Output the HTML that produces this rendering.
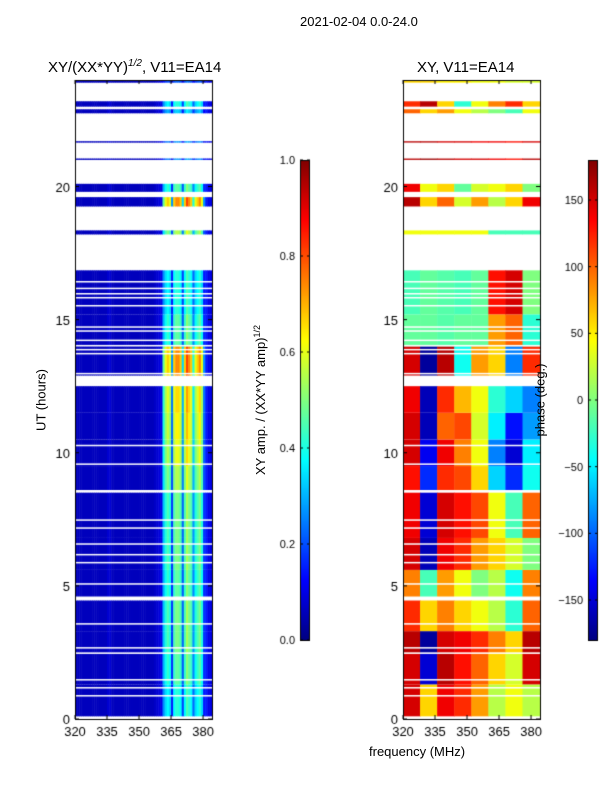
<!DOCTYPE html>
<html><head><meta charset="utf-8"><style>
body{margin:0;background:#fff;}
#wrap{position:relative;width:600px;height:800px;font-family:"Liberation Sans","DejaVu Sans",sans-serif;color:#000;}
.t{position:absolute;white-space:nowrap;}
canvas{position:absolute;left:0;top:0;}
</style></head><body>
<div id="wrap">
<canvas id="c" width="600" height="800"></canvas>
<div class="t" style="left:300px;top:14px;font-size:13px">2021-02-04 0.0-24.0</div>
<div class="t" style="left:48px;top:58px;font-size:15px">XY/(XX*YY)<sup style="font-size:10px;font-style:italic">1/2</sup>, V11=EA14</div>
<div class="t" style="left:417px;top:59px;font-size:15px">XY, V11=EA14</div>
<div class="t" style="left:41px;top:400px;font-size:13px;transform:translate(-50%,-50%) rotate(-90deg)">UT (hours)</div>
<div class="t" style="left:260px;top:400px;font-size:13px;transform:translate(-50%,-50%) rotate(-90deg)">XY amp. / (XX*YY amp)<sup style="font-size:9px">1/2</sup></div>
<div class="t" style="left:540px;top:400px;font-size:13px;transform:translate(-50%,-50%) rotate(-90deg)">phase (deg.)</div>
<div class="t" style="left:369px;top:744px;font-size:13px">frequency (MHz)</div>
</div>
<script>
const freqTicks=[320,335,350,365,380];
const hourTicks=[0,5,10,15,20];
const ampTicks=[0.0,0.2,0.4,0.6,0.8,1.0];
const phaseTicks=[-150,-100,-50,0,50,100,150];
// amplitude profile per 1 MHz channel, 320..383
const ampProfile=[0.06,0.06,0.06,0.06,0.06,0.06,0.06,0.06,0.06,0.06,0.06,0.06,0.06,0.06,0.06,0.08,0.08,0.06,0.06,0.06,
0.06,0.06,0.06,0.06,0.06,0.06,0.06,0.06,0.06,0.06,0.06,0.06,0.06,0.06,0.06,0.06,0.06,0.07,0.08,0.09,
0.1,0.35,0.45,0.5,0.45,0.2,0.5,0.55,0.55,0.5,0.25,0.5,0.6,0.55,0.5,0.3,0.45,0.5,0.55,0.45,0.2,0.15,0.1,0.1];
// data bands: start hour, end hour
const bandStart=[0.1,1.3,2.5,3.3,4.55,5.6,6.8,8.6,9.5,10.5,11.5,12.9,14.0,15.2,18.2,19.25,19.8,21.0,21.65,22.75,23.0,23.9];
const bandEnd=[1.3,2.5,3.3,4.45,5.6,6.8,8.5,9.5,10.5,11.5,12.5,14.0,15.2,16.85,18.35,19.6,20.1,21.05,21.7,22.9,23.2,23.97];
const bandAmp=[0.75,0.85,0.9,0.9,0.85,0.9,0.9,1.0,1.1,1.15,1.2,1.35,0.85,0.75,1.0,1.35,0.85,0.5,0.5,0.6,0.75,0.4];
// phase per band in 8 bins of 8 MHz
const bandPhase=[
[150,60,140,120,80,20,40,20],[150,-150,160,130,100,60,30,150],[160,-170,150,140,120,90,60,160],
[120,60,90,60,40,20,-30,100],[90,-20,80,40,0,20,-40,90],[150,-160,140,120,80,60,30,0],
[140,-150,150,130,110,40,-20,100],[130,-120,120,110,60,-60,-120,-40],[150,-140,140,90,40,-90,-150,-50],
[150,-160,100,110,30,-50,-130,-80],[140,-160,120,70,40,-30,-60,-90],[150,-170,160,-40,80,60,-90,120],
[-10,-10,-15,-10,-10,80,100,-30],[-20,-10,-15,-20,-10,130,150,0],[40,40,40,40,40,-20,-20,-20],
[160,60,100,30,80,20,60,140],[140,40,60,-10,30,40,60,0],[160,170,160,150,150,140,130,160],
[160,160,150,150,140,140,130,150],[100,60,80,40,20,0,-20,40],[120,160,60,-30,40,90,120,60],[60,60,50,50,40,40,30,30]];
// thin white gaps (hours)
const gapHours=[16.45,16.2,16.0,15.85,15.55,14.75,14.6,14.25,14.05,13.9,13.75,13.0,10.3,9.6,7.5,7.2,6.6,6.2,5.9,5.1,4.6,3.6,2.7,2.5,1.5,1.2,0.9];

const cv=document.getElementById('c');const ctx=cv.getContext('2d');
const Y0=719,Y24=80;
function yScale(h){return Y0-(Y0-Y24)*h/24;}
function xScaleL(f){return 75+(f-320)*137/64.2;}
function xScaleR(f){return 403+(f-320)*137/64.2;}
function jet(v){v=Math.max(0,Math.min(1,v));
 function c(x){return Math.round(255*Math.max(0,Math.min(1,x)));}
 return 'rgb('+c(1.5-Math.abs(4*v-3))+','+c(1.5-Math.abs(4*v-2))+','+c(1.5-Math.abs(4*v-1))+')';}
for(let b=0;b<bandStart.length;b++){
 const y1=yScale(bandEnd[b]),y2=yScale(bandStart[b]);
 for(let i=0;i<ampProfile.length;i++){
  const f=320+i;let v=ampProfile[i];if(v>0.15)v=Math.min(1,v*bandAmp[b]);
  ctx.fillStyle=jet(v);const x1=xScaleL(f),x2=xScaleL(f+1);
  ctx.fillRect(x1,y1,x2-x1+0.5,y2-y1);
 }
 for(let k=0;k<8;k++){
  const v=(bandPhase[b][k]+180)/360;
  ctx.fillStyle=jet(v);const x1=xScaleR(320+8*k),x2=Math.min(540,xScaleR(328+8*k));
  ctx.fillRect(x1,y1,x2-x1+0.5,y2-y1);
 }
}
ctx.fillStyle='#fff';
gapHours.forEach(h=>{const y=yScale(h);ctx.fillRect(75,y,137,1.5);ctx.fillRect(403,y,137,1.5);});
function frame(x0,fx){
 ctx.strokeStyle='#000';ctx.lineWidth=1;ctx.strokeRect(x0+0.5,Y24+0.5,137,Y0-Y24);
 ctx.fillStyle='#000';ctx.font='13px "Liberation Sans",sans-serif';
 freqTicks.forEach(f=>{const x=fx(f);ctx.beginPath();ctx.moveTo(x,Y0);ctx.lineTo(x,Y0-4);ctx.moveTo(x,Y24);ctx.lineTo(x,Y24+4);ctx.stroke();
  ctx.textAlign='center';ctx.fillText(f,x,Y0+17);});
 hourTicks.forEach(h=>{const y=yScale(h);ctx.beginPath();ctx.moveTo(x0,y);ctx.lineTo(x0+4,y);ctx.moveTo(x0+137,y);ctx.lineTo(x0+133,y);ctx.stroke();
  ctx.textAlign='right';ctx.fillText(h,x0-5,y+5);});
}
frame(75,xScaleL);frame(403,xScaleR);
function cbar(x,ticks,lo,hi,fmt){
 for(let y=160;y<640;y++){ctx.fillStyle=jet((640-y)/480);ctx.fillRect(x,y,10,1);}
 ctx.strokeStyle='#000';ctx.strokeRect(x+0.5,160.5,9,480);
 ctx.fillStyle='#000';ctx.font='11px "Liberation Sans",sans-serif';ctx.textAlign='right';
 ticks.forEach(t=>{const y=640-(t-lo)/(hi-lo)*480;ctx.beginPath();ctx.moveTo(x,y);ctx.lineTo(x+3,y);ctx.moveTo(x+10,y);ctx.lineTo(x+7,y);ctx.stroke();
  ctx.fillText(fmt(t),x-5,y+4);});
}
cbar(300,ampTicks,0,1,t=>t.toFixed(1));
cbar(588,phaseTicks,-180,180,t=>t<0?'\u2212'+(-t):String(t));
</script>
</body></html>
